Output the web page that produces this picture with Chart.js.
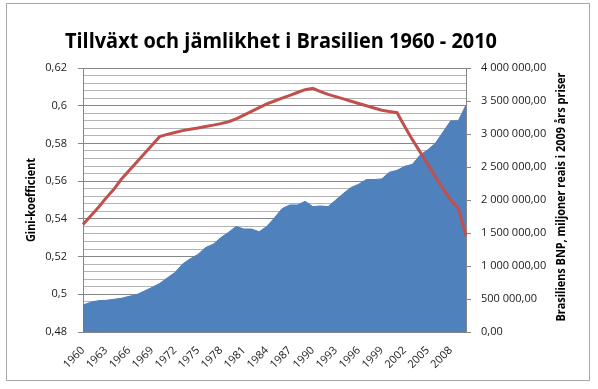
<!DOCTYPE html>
<html>
<head>
<meta charset="utf-8">
<script src="https://cdn.jsdelivr.net/npm/chart.js@4.4.1/dist/chart.umd.min.js"></script>
<style>
  html, body { margin: 0; padding: 0; background: #fff; }
  #wrap { position: relative; width: 598px; height: 389px; overflow: hidden; }
  #frame { position: absolute; left: 6px; top: 3px; width: 584px; height: 378px; border: 1px solid #a6a6a6; box-sizing: border-box; }
  canvas { position: absolute; left: 0; top: 0; }
</style>
</head>
<body>
<div id="wrap">
  <div id="frame"></div>
  <canvas id="chart" width="598" height="389"></canvas>
</div>
<script>
/* Tillväxt och jämlikhet i Brasilien — Gini (left) vs BNP (right) */

const mainTitle = 'Tillväxt och jämlikhet i Brasilien 1960 - 2010';
const leftTitle = 'Gini-koefficient';
const rightTitle = 'Brasiliens BNP, miljoner reais i 2009 års priser';

const years = [
  '1960','1961','1962','1963','1964','1965','1966','1967','1968','1969',
  '1970','1971','1972','1973','1974','1975','1976','1977','1978','1979',
  '1980','1981','1982','1983','1984','1985','1986','1987','1988','1989',
  '1990','1991','1992','1993','1994','1995','1996','1997','1998','1999',
  '2000','2001','2002','2003','2004','2005','2006','2007','2008','2009',
  '2010'
];

// Gini-koefficient (left axis)
const gini = [
  0.537, 0.5415, 0.546, 0.551, 0.5555, 0.561, 0.5655, 0.570, 0.5745, 0.579,
  0.5836, 0.5848, 0.5858, 0.5868, 0.5875, 0.5882, 0.589, 0.5897, 0.5905, 0.5915,
  0.593, 0.595, 0.597, 0.599, 0.601, 0.6025, 0.604, 0.6055, 0.607, 0.6085,
  0.6092, 0.6075, 0.606, 0.6048, 0.6036, 0.6024, 0.6012, 0.600, 0.5988, 0.5976,
  0.5969, 0.5963, 0.589, 0.582, 0.5755, 0.569, 0.5625, 0.556, 0.550, 0.5455,
  0.531
];

// BNP, miljoner reais (right axis)
const bnp = [
  410000, 450000, 475000, 480000, 495000, 510000, 540000, 565000, 620000, 675000,
  735000, 820000, 900000, 1030000, 1110000, 1175000, 1280000, 1330000, 1430000, 1510000,
  1600000, 1560000, 1560000, 1520000, 1600000, 1730000, 1870000, 1925000, 1925000, 1980000,
  1900000, 1910000, 1900000, 2000000, 2100000, 2190000, 2240000, 2310000, 2310000, 2320000,
  2420000, 2450000, 2510000, 2540000, 2680000, 2760000, 2860000, 3030000, 3200000, 3200000,
  3440000
];

const tickFont = { family: '"Open Sans", "Liberation Sans", sans-serif', size: 11 };
const textColor = '#1a1a1a';
const axisColor = '#868686';
const minorColor = '#b4b4b4';

function isMajor(v) {
  const r = v / 0.02;
  return Math.abs(r - Math.round(r)) < 1e-6;
}

function fmtGini(v) {
  return String(+v.toFixed(2)).replace('.', ',');
}

function fmtBnp(v) {
  return Math.round(v).toString().replace(/\B(?=(\d{3})+(?!\d))/g, ' ') + ',00';
}

// draw text squeezed to the width it takes in the original
function drawFit(ctx, text, font, x, y, w, rot) {
  ctx.save();
  ctx.font = font;
  ctx.fillStyle = '#000';
  ctx.textAlign = 'center';
  ctx.textBaseline = 'middle';
  ctx.translate(x, y);
  ctx.rotate(rot);
  const m = ctx.measureText(text).width;
  ctx.scale(Math.min(1, w / m), 1);
  ctx.fillText(text, 0, 0);
  ctx.restore();
}

const titles = {
  id: 'titles',
  afterDraw(chart) {
    const ctx = chart.ctx;
    const a = chart.chartArea;
    const mid = (a.top + a.bottom) / 2;
    drawFit(ctx, mainTitle, 'bold 21px "Open Sans"', 281, 42, 432, 0);
    drawFit(ctx, leftTitle, 'bold 12px "Open Sans"', 32, mid, 84, -Math.PI / 2);
    drawFit(ctx, rightTitle, 'bold 12px "Open Sans"', 562, mid - 3, 249, -Math.PI / 2);
  }
};

new Chart(document.getElementById('chart').getContext('2d'), {
  type: 'line',
  data: {
    labels: years,
    datasets: [
      {
        label: 'Gini',
        data: gini,
        yAxisID: 'y',
        borderColor: '#c0504d',
        borderWidth: 3,
        pointRadius: 0,
        tension: 0,
        fill: false,
        order: 0
      },
      {
        label: 'BNP',
        data: bnp,
        yAxisID: 'y1',
        borderColor: '#4f81bd',
        backgroundColor: '#4f81bd',
        borderWidth: 1,
        pointRadius: 0,
        tension: 0,
        fill: 'origin',
        order: 1
      }
    ]
  },
  options: {
    responsive: false,
    animation: false,
    devicePixelRatio: 1,
    layout: { padding: { top: 68, left: 0, right: 0, bottom: 0 } },
    plugins: {
      legend: { display: false },
      tooltip: { enabled: false },
      title: { display: false }
    },
    scales: {
      x: {
        grid: { display: false },
        border: { color: axisColor },
        ticks: {
          autoSkip: false,
          maxRotation: 45,
          minRotation: 45,
          padding: 4,
          font: tickFont,
          color: textColor,
          callback: (v, i) => (i % 3 === 0 ? years[i] : '')
        },
        afterFit(s) { s.height = 57; }
      },
      y: {
        position: 'left',
        min: 0.48,
        max: 0.62,
        ticks: {
          stepSize: 0.004,
          maxTicksLimit: 60,
          autoSkip: false,
          padding: 11,
          font: tickFont,
          color: textColor,
          callback: v => (isMajor(v) ? fmtGini(v) : '')
        },
        grid: {
          tickLength: 5,
          color: c => (isMajor(c.tick.value) ? axisColor : minorColor),
          tickColor: c => (isMajor(c.tick.value) ? axisColor : 'rgba(0,0,0,0)')
        },
        border: { color: axisColor },
        afterFit(s) { s.width = 83; }
      },
      y1: {
        position: 'right',
        min: 0,
        max: 4000000,
        ticks: {
          stepSize: 500000,
          padding: 10,
          font: tickFont,
          color: textColor,
          callback: v => fmtBnp(v)
        },
        grid: { drawOnChartArea: false, tickLength: 5, color: axisColor },
        border: { color: axisColor },
        afterFit(s) { s.width = 132; }
      }
    }
  },
  plugins: [titles]
});
</script>
</body>
</html>
